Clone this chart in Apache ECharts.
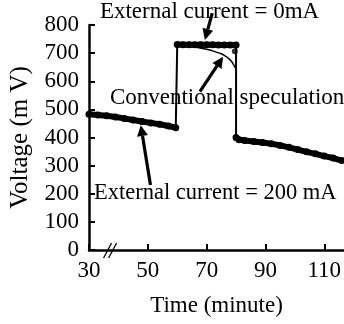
<!DOCTYPE html>
<html><head><meta charset="utf-8">
<script src="https://cdn.jsdelivr.net/npm/echarts@6/dist/echarts.min.js"></script>
<style>html,body{margin:0;padding:0;background:#fff}#c{width:344px;height:324px}</style>
</head><body><div id="c"></div>
<script>
// Segment 1: external current = 200 mA (before)
var time1 = [30, 33, 36, 39, 42, 45, 48, 51, 54, 57, 59.5];
var volt1 = [483, 480, 477, 473, 468, 462, 457, 452, 447, 441, 435];
// Segment 2: external current = 0 mA
var time2 = [60, 62, 64, 66, 68, 70, 72, 74, 76, 78, 80];
var volt2 = [731, 730, 730, 730, 730, 730, 730, 729, 729, 729, 729];
// Segment 3: external current = 200 mA (after)
var time3 = [80, 81, 83, 86, 89, 92, 95, 98, 101, 104, 107, 110, 113, 116];
var volt3 = [400, 392, 389, 386, 382, 378, 372, 365, 357, 349, 342, 334, 327, 318];
// Conventional speculation curve
var convTime = [60, 64, 67, 70, 72, 74, 76, 78, 79, 79.7];
var convVolt = [726, 724, 720, 714, 708, 701, 692, 676, 662, 648];
// Extra point on right vertical
var extraTime = [79.6];
var extraVolt = [707];

var xTicks = [30, 50, 70, 90, 110];
var yTicks = [0, 100, 200, 300, 400, 500, 600, 700, 800];

// annotations in data coordinates
var labels = [
  {text: 'External current = 0mA', x: 33.7, y: 846, size: 23},
  {text: 'Conventional speculation', x: 37.1, y: 540, size: 23},
  {text: 'External current = 200 mA', x: 31.7, y: 203, size: 22.5}
];
var arrows = [
  {from: [71.9, 842], to: [69.4, 747]},
  {from: [67.7, 563], to: [75.6, 687]},
  {from: [50.9, 231], to: [47.6, 444]}
];

function zip(a, b) { return a.map(function (v, i) { return [v, b[i]]; }); }
var s1 = zip(time1, volt1), s2 = zip(time2, volt2), s3 = zip(time3, volt3);
var full = s1.concat(s2).concat(s3);

var FONT = 'Liberation Serif';
var chart = echarts.init(document.getElementById('c'));
var axisCommon = {
  axisLine: {lineStyle: {color: '#000', width: 2.5}},
  axisTick: {inside: true, length: 6, lineStyle: {color: '#000', width: 2}},
  splitLine: {show: false},
  axisLabel: {color: '#000', fontFamily: FONT, fontSize: 23},
  nameTextStyle: {color: '#000', fontFamily: FONT, fontSize: 23}
};
var thick = {type: 'line', symbol: 'circle', symbolSize: 7, showSymbol: true,
  itemStyle: {color: '#000'}, lineStyle: {color: '#000', width: 6}, animation: false, z: 3};
chart.setOption({
  animation: false,
  grid: {left: 86, right: 0, top: 25, bottom: 74, containLabel: false},
  xAxis: Object.assign({}, axisCommon, {
    type: 'value', min: xTicks[0], max: 116.7, interval: 20,
    name: 'Time (minute)', nameLocation: 'middle', nameGap: 44,
    axisLabel: Object.assign({}, axisCommon.axisLabel, {margin: 9, showMaxLabel: false,
      formatter: function (v) { return xTicks.indexOf(v) >= 0 ? String(v) : ''; }})
  }),
  yAxis: Object.assign({}, axisCommon, {
    type: 'value', min: yTicks[0], max: yTicks[yTicks.length - 1], interval: 100,
    name: 'Voltage (m V)', nameLocation: 'middle', nameGap: 56,
    nameTextStyle: {color: '#000', fontFamily: FONT, fontSize: 25},
    axisLabel: Object.assign({}, axisCommon.axisLabel, {margin: 10})
  }),
  series: [
    {type: 'line', data: full, symbol: 'none', lineStyle: {color: '#000', width: 2}, z: 2},
    Object.assign({}, thick, {data: s1}),
    Object.assign({}, thick, {data: s2}),
    Object.assign({}, thick, {data: s3}),
    {type: 'line', data: zip(convTime, convVolt), symbol: 'none', smooth: true,
      lineStyle: {color: '#000', width: 1.5}, z: 2},
    {type: 'scatter', data: zip(extraTime, extraVolt), symbolSize: 6, itemStyle: {color: '#000'}, z: 3}
  ]
});

function px(p) { return chart.convertToPixel({gridIndex: 0}, p); }
var g = [];
labels.forEach(function (l) {
  var p = px([l.x, l.y]);
  g.push({type: 'text', x: p[0], y: p[1], z: 10,
    style: {text: l.text, fill: '#000', font: l.size + 'px "' + FONT + '"', textAlign: 'left', textVerticalAlign: 'middle'}});
});
arrows.forEach(function (a) {
  var p0 = px(a.from), p1 = px(a.to);
  var dx = p1[0] - p0[0], dy = p1[1] - p0[1], len = Math.sqrt(dx * dx + dy * dy);
  dx /= len; dy /= len;
  var L = 11, W = 5.5;
  var b = [p1[0] - dx * L, p1[1] - dy * L];
  g.push({type: 'line', z: 10, shape: {x1: p0[0], y1: p0[1], x2: b[0], y2: b[1]},
    style: {stroke: '#000', lineWidth: 3.2}});
  g.push({type: 'polygon', z: 10, shape: {points: [p1, [b[0] - dy * W, b[1] + dx * W], [b[0] + dy * W, b[1] - dx * W]]},
    style: {fill: '#000'}});
});
// axis break mark
var bp = px([37, 0]);
[-2, 3].forEach(function (o) {
  g.push({type: 'line', z: 10, shape: {x1: bp[0] + o - 4, y1: bp[1] + 8, x2: bp[0] + o + 4, y2: bp[1] - 7},
    style: {stroke: '#000', lineWidth: 1.3}});
});
chart.setOption({graphic: g});
</script></body></html>
